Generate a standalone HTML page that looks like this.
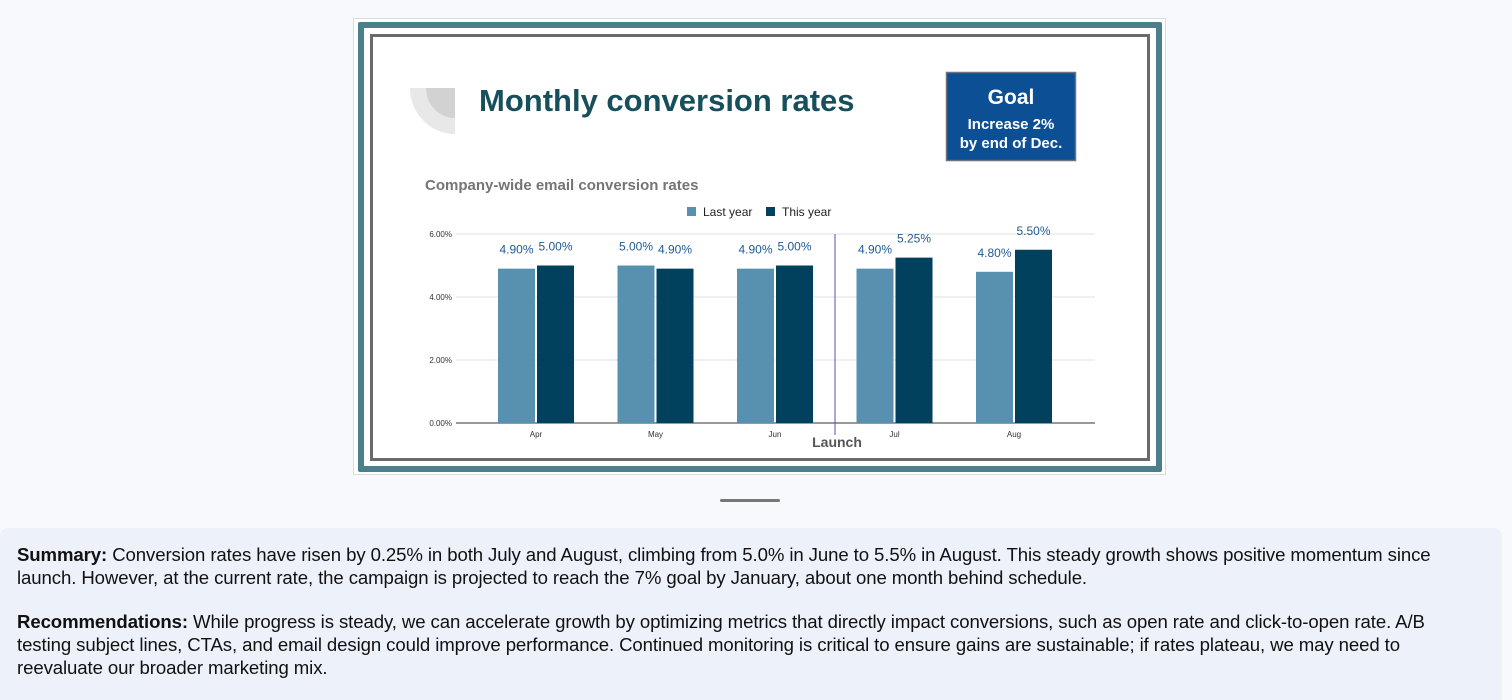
<!DOCTYPE html>
<html><head><meta charset="utf-8"><style>
body{margin:0;width:1512px;height:700px;background:#f8f9fc;font-family:"Liberation Sans",Arial,sans-serif;position:relative;overflow:hidden}
#frame{position:absolute;left:353px;top:18px;width:813px;height:457px;background:#fff;border:1px solid #d8dbe0;box-sizing:border-box}
#teal{position:absolute;left:358px;top:22px;width:804px;height:450px;border:6px solid #4a7f8c;box-sizing:border-box;border-radius:2px}
#inner{position:absolute;left:370px;top:34px;width:780px;height:427px;border:3px solid #6b6b6b;box-sizing:border-box}
#summary{position:absolute;left:0;top:528px;width:1502px;height:172px;background:#edf1f9;border-radius:8px 8px 0 0;box-sizing:border-box;padding:15px 60px 0 17px;font-size:18.6px;line-height:23px;color:#111;letter-spacing:-0.1px}
#summary p{margin:0 0 21px 0}
</style></head><body>
<div id="frame"></div>
<div id="teal"></div>
<div id="inner"></div>
<svg width="1512" height="700" style="position:absolute;left:0;top:0">
 <g>
  <path d="M410,88 L455,88 L455,134 A45,46 0 0 1 410,88 Z" fill="#e8e8e8"/>
  <path d="M426,88 L455,88 L455,118 A29,30 0 0 1 426,88 Z" fill="#d2d2d2"/>
 </g>
 <text x="479" y="111" font-size="31" font-weight="bold" fill="#174f5c">Monthly conversion rates</text>
 <g>
  <rect x="946.5" y="72.5" width="129" height="88" fill="#0d4f94" stroke="#6b7280" stroke-width="1.5"/>
  <text x="1011" y="104" font-size="21" font-weight="bold" fill="#fff" text-anchor="middle">Goal</text>
  <text x="1011" y="129" font-size="15" font-weight="bold" fill="#fff" text-anchor="middle">Increase 2%</text>
  <text x="1011" y="148" font-size="15" font-weight="bold" fill="#fff" text-anchor="middle">by end of Dec.</text>
 </g>
 <text x="425" y="190" font-size="15" font-weight="bold" fill="#757575">Company-wide email conversion rates</text>
 <g>
  <rect x="687" y="207" width="9" height="9" fill="#5891b0"/>
  <text x="703" y="216" font-size="12" fill="#222">Last year</text>
  <rect x="766" y="207" width="9" height="9" fill="#01415e"/>
  <text x="782" y="216" font-size="12" fill="#222">This year</text>
 </g>
 <g id="grid"></g><g id="bars"></g>
 <line x1="835" y1="234" x2="835" y2="435" stroke="#5050c8" stroke-width="1"/>
 <text x="837" y="447" font-size="14" font-weight="bold" fill="#555" text-anchor="middle">Launch</text>
 <rect x="720" y="499" width="60" height="3" rx="1.5" fill="#777"/>
</svg>
<div id="summary">
<p><b>Summary:</b> Conversion rates have risen by 0.25% in both July and August, climbing from 5.0% in June to 5.5% in August. This steady growth shows positive momentum since launch. However, at the current rate, the campaign is projected to reach the 7% goal by January, about one month behind schedule.</p>
<p><b>Recommendations:</b> While progress is steady, we can accelerate growth by optimizing metrics that directly impact conversions, such as open rate and click-to-open rate. A/B testing subject lines, CTAs, and email design could improve performance. Continued monitoring is critical to ensure gains are sustainable; if rates plateau, we may need to reevaluate our broader marketing mix.</p>
</div>
<script>
const categories=["Apr","May","Jun","Jul","Aug"];
const lastYear=[4.90,5.00,4.90,4.90,4.80];
const thisYear=[5.00,4.90,5.00,5.25,5.50];
const yTicks=[0,2,4,6];
const NS="http://www.w3.org/2000/svg";
const x0=456,x1=1095,y0=423,y1=234,yMax=6;
const y=v=>y0-(v/yMax)*(y0-y1);
const catStart=476.25,band=119.5;
const cx=i=>catStart+band*(i+0.5);
function mk(t,a,p){const e=document.createElementNS(NS,t);for(const k in a)e.setAttribute(k,a[k]);p.appendChild(e);return e;}
const grid=document.getElementById('grid'),bars=document.getElementById('bars');
yTicks.forEach(t=>{
 const l=mk('line',{x1:x0,x2:x1,y1:y(t),y2:y(t),stroke:t===0?'#333':'#e0e0e0','stroke-width':1},grid);
 
 
 const tx=mk('text',{x:452,y:y(t)+3,'font-size':8,fill:'#333','text-anchor':'end'},grid);
 tx.textContent=t.toFixed(2)+'%';
 
 
});
const bw=37;
categories.forEach((c,i)=>{
 const series=[[lastYear[i],'#5891b0',cx(i)-bw-1],[thisYear[i],'#01415e',cx(i)+1]];
 series.forEach((s,j)=>{
  const r=mk('rect',{x:s[2],y:y(s[0]),width:bw,height:y0-y(s[0]),fill:s[1]},bars);
  
  
  const lb=mk('text',{x:s[2]+bw/2,y:y(s[0])-15,'font-size':12,fill:'#1f5a96','text-anchor':'middle'},bars);
  lb.textContent=s[0].toFixed(2)+'%';
  
  
 });
 const xl=mk('text',{x:cx(i),y:437,'font-size':8,fill:'#333','text-anchor':'middle'},bars);
 xl.textContent=c;
 
 
});
</script>
</body></html>
